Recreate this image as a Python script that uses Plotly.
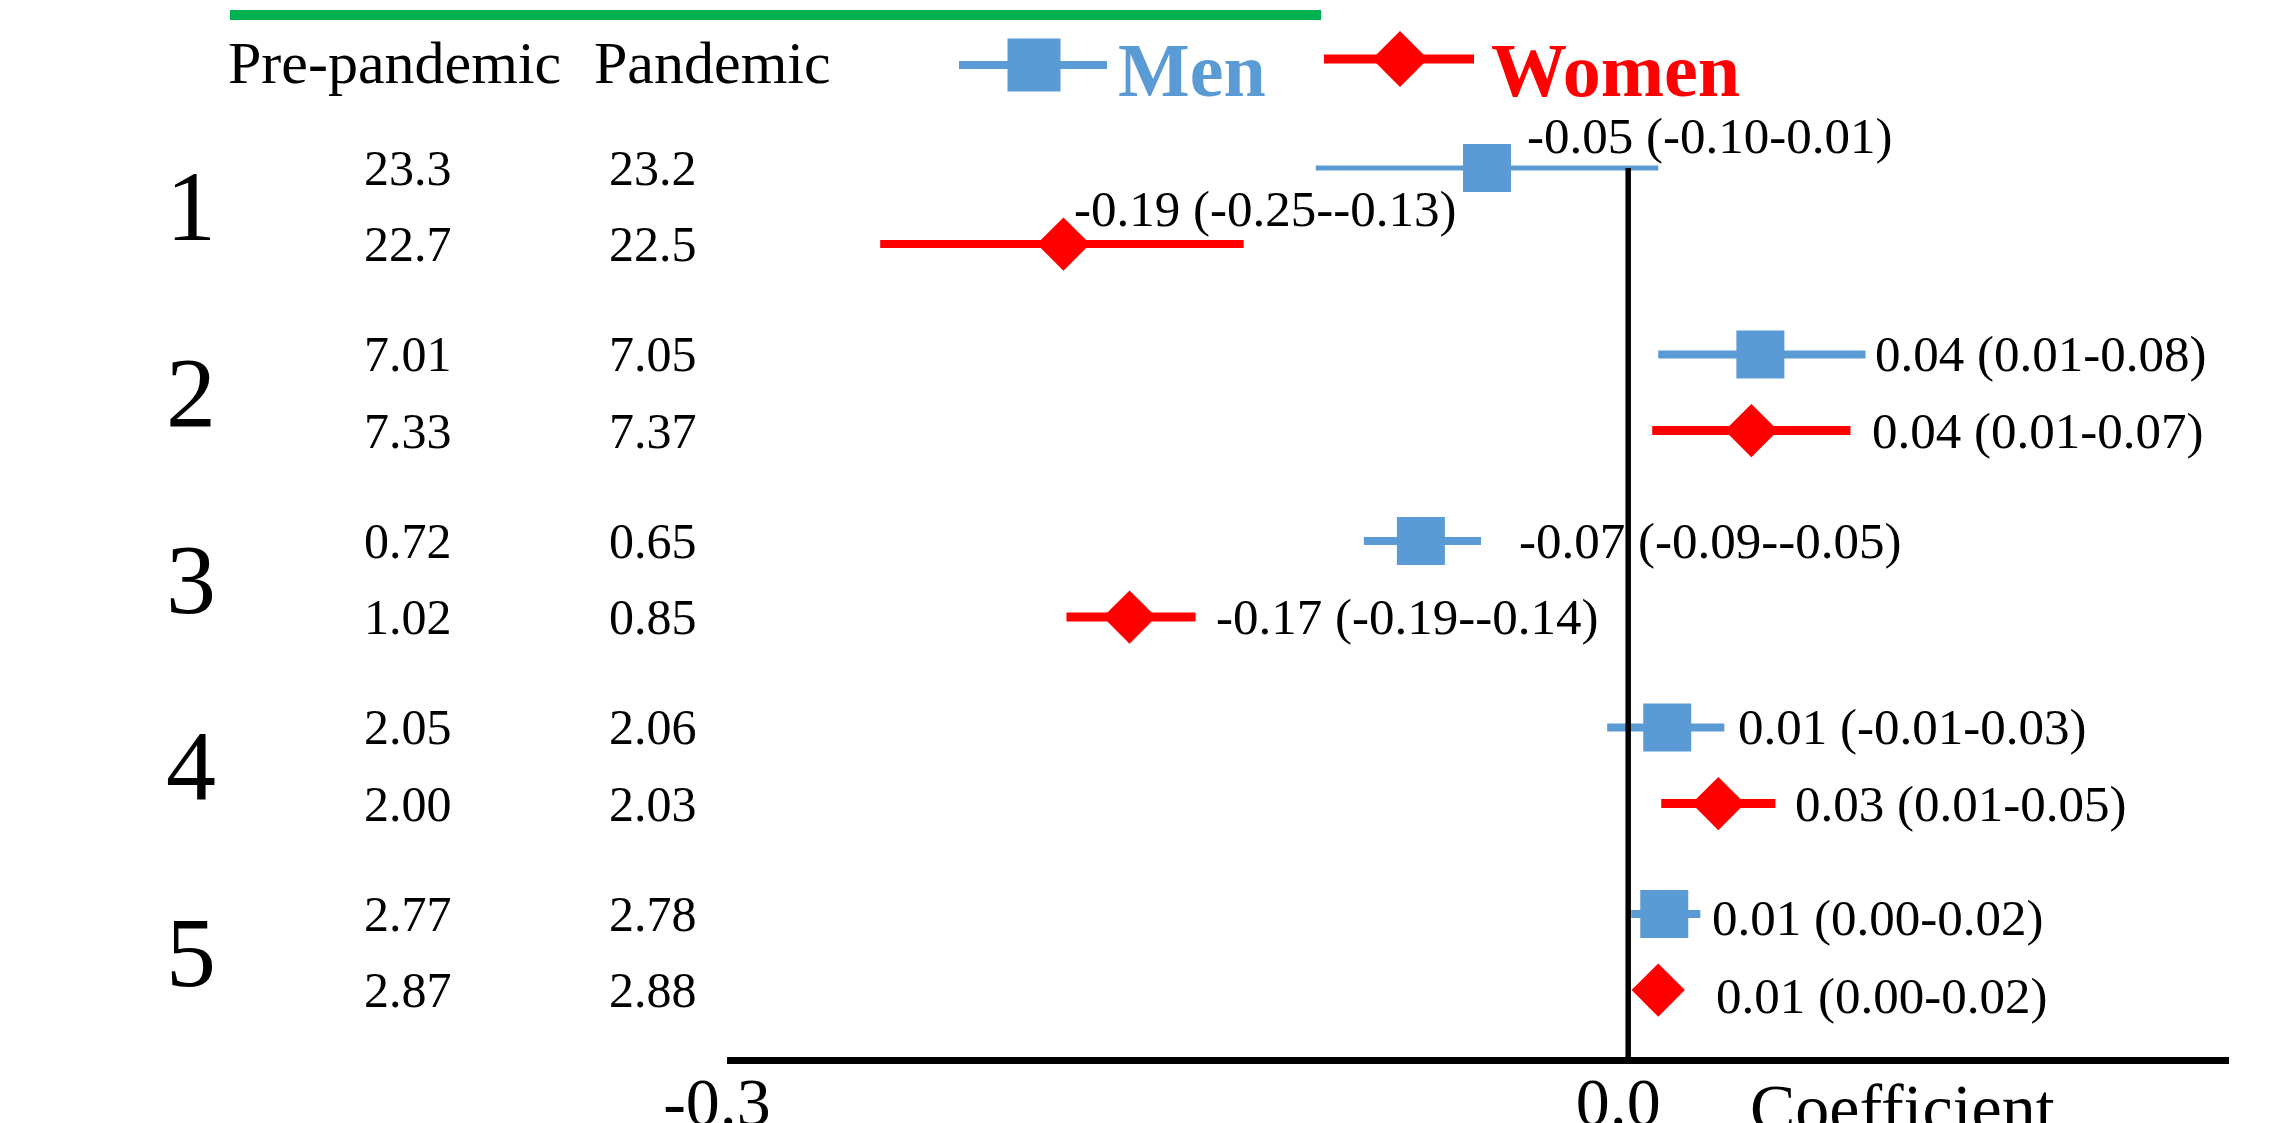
import plotly.graph_objects as go

# ---------------- data ----------------
groups = ["1", "2", "3", "4", "5"]
pre_men = ["23.3", "7.01", "0.72", "2.05", "2.77"]
pan_men = ["23.2", "7.05", "0.65", "2.06", "2.78"]
pre_women = ["22.7", "7.33", "1.02", "2.00", "2.87"]
pan_women = ["22.5", "7.37", "0.85", "2.03", "2.88"]

men_coef = [-0.047, 0.044, -0.069, 0.013, 0.012]
men_lo = [-0.104, 0.010, -0.088, -0.007, 0.001]
men_hi = [0.010, 0.079, -0.049, 0.032, 0.024]
women_coef = [-0.188, 0.041, -0.166, 0.030, 0.010]
women_lo = [-0.249, 0.008, -0.187, 0.011, 0.006]
women_hi = [-0.128, 0.074, -0.144, 0.049, 0.014]

men_labels = ["-0.05 (-0.10-0.01)", "0.04 (0.01-0.08)", "-0.07 (-0.09--0.05)",
              "0.01 (-0.01-0.03)", "0.01 (0.00-0.02)"]
women_labels = ["-0.19 (-0.25--0.13)", "0.04 (0.01-0.07)", "-0.17 (-0.19--0.14)",
                "0.03 (0.01-0.05)", "0.01 (0.00-0.02)"]

col_headers = ["Pre-pandemic", "Pandemic"]
x_tickvals = [-0.3, 0.0]
x_ticktext = ["-0.3", "0.0"]
x_title = "Coefficient"

# ---------------- layout helpers (page pixel coordinates) ----------------
OFF = 8                      # default page body margin
PAGE_W, PAGE_H = 2293, 1123
W, H = PAGE_W - OFF, PAGE_H - OFF
L, R, T, B = 727, 2229, OFF, 1057   # plot area in page pixels
X_RANGE = [-0.3, 0.2]
ROW_PX0, ROW_PX = 206, 186.5          # pixel of row 1 centre, pixels per row
ROW_OFF = 0.204
Y_RANGE = [1 + (B - ROW_PX0) / ROW_PX, 1 + (T - ROW_PX0) / ROW_PX]

BLUE = "#5B9BD5"
RED = "#FF0000"
GREEN = "#00B050"
FONT = "Liberation Serif"


def PX(px):
    return (px - L) / (R - L)


def PY(py):
    return 1 - (py - T) / (B - T)


def XD(px):  # page pixel -> coefficient units (legend placement)
    return X_RANGE[0] + (px - L) / (R - L) * (X_RANGE[1] - X_RANGE[0])


def YD(py):  # page pixel -> row units
    return 1 + (py - ROW_PX0) / ROW_PX


g = [i + 1 for i in range(len(groups))]
men_y = [v - ROW_OFF for v in g]
women_y = [v + ROW_OFF for v in g]

men_lw = [5, 8, 8, 8, 8]
women_lw = [8, 9, 9, 9, 9]
men_lab_x = [-0.0343, 0.0816, -0.037, 0.036, 0.0273]
women_lab_x = [-0.1851, 0.0806, -0.1379, 0.0549, 0.0286]
men_lab_dy = [-0.17, 0, 0, 0, 0.02]
women_lab_dy = [-0.19, 0, 0, 0, 0.03]

fig = go.Figure()

# CI lines
for i in range(len(groups)):
    fig.add_trace(go.Scatter(x=[men_lo[i], men_hi[i]], y=[men_y[i], men_y[i]], mode="lines",
                             line=dict(color=BLUE, width=men_lw[i]), showlegend=False,
                             hoverinfo="skip", cliponaxis=False))
    fig.add_trace(go.Scatter(x=[women_lo[i], women_hi[i]], y=[women_y[i], women_y[i]], mode="lines",
                             line=dict(color=RED, width=women_lw[i]), showlegend=False,
                             hoverinfo="skip", cliponaxis=False))

# zero reference line
fig.add_trace(go.Scatter(x=[0, 0], y=[men_y[0], Y_RANGE[0]], mode="lines",
                         line=dict(color="black", width=5.5), showlegend=False,
                         hoverinfo="skip", cliponaxis=False))

# point estimates
fig.add_trace(go.Scatter(x=men_coef, y=men_y, mode="markers", name="Men",
                         marker=dict(symbol="square", size=48, color=BLUE, line=dict(width=0)),
                         showlegend=False, cliponaxis=False))
fig.add_trace(go.Scatter(x=women_coef, y=women_y, mode="markers", name="Women",
                         marker=dict(symbol="diamond", size=41, color=RED, line=dict(width=0)),
                         showlegend=False, cliponaxis=False))

# custom legend
fig.add_trace(go.Scatter(x=[XD(959), XD(1107)], y=[YD(65), YD(65)], mode="lines",
                         line=dict(color=BLUE, width=8), showlegend=False, hoverinfo="skip"))
fig.add_trace(go.Scatter(x=[XD(1034)], y=[YD(65)], mode="markers",
                         marker=dict(symbol="square", size=53, color=BLUE), showlegend=False,
                         hoverinfo="skip"))
fig.add_trace(go.Scatter(x=[XD(1324), XD(1474)], y=[YD(59), YD(59)], mode="lines",
                         line=dict(color=RED, width=9), showlegend=False, hoverinfo="skip"))
fig.add_trace(go.Scatter(x=[XD(1400)], y=[YD(59)], mode="markers",
                         marker=dict(symbol="diamond", size=43, color=RED), showlegend=False,
                         hoverinfo="skip"))

ann = []
ann.append(dict(text="Men", x=PX(1116), y=PY(70), xref="paper", yref="paper",
                xanchor="left", yanchor="middle", showarrow=False,
                font=dict(family=FONT, size=76, color=BLUE, weight="bold")))
ann.append(dict(text="Women", x=PX(1489), y=PY(70), xref="paper", yref="paper",
                xanchor="left", yanchor="middle", showarrow=False,
                font=dict(family=FONT, size=76, color=RED, weight="bold")))

# column headers
for txt, px in zip(col_headers, [226, 592]):
    ann.append(dict(text=txt, x=PX(px), y=PY(63), xref="paper", yref="paper",
                    xanchor="left", yanchor="middle", showarrow=False,
                    font=dict(family=FONT, size=60, color="black")))

# group labels and table values
for i in range(len(groups)):
    ann.append(dict(text=groups[i], x=PX(191), y=(men_y[i] + women_y[i]) / 2, xref="paper", yref="y",
                    xanchor="center", yanchor="middle", showarrow=False,
                    font=dict(family=FONT, size=100, color="black")))
    for txt, px, yy in [(pre_men[i], 362, men_y[i]), (pan_men[i], 607, men_y[i]),
                        (pre_women[i], 362, women_y[i]), (pan_women[i], 607, women_y[i])]:
        ann.append(dict(text=txt, x=PX(px), y=yy, xref="paper", yref="y",
                        xanchor="left", yanchor="middle", showarrow=False,
                        font=dict(family=FONT, size=50, color="black")))
    ann.append(dict(text=men_labels[i], x=men_lab_x[i], y=men_y[i] + men_lab_dy[i], xref="x", yref="y",
                    xanchor="left", yanchor="middle", showarrow=False,
                    font=dict(family=FONT, size=51, color="black")))
    ann.append(dict(text=women_labels[i], x=women_lab_x[i], y=women_y[i] + women_lab_dy[i], xref="x",
                    yref="y", xanchor="left", yanchor="middle", showarrow=False,
                    font=dict(family=FONT, size=51, color="black")))

# axis title beside the ticks
ann.append(dict(text=x_title, x=PX(1748), y=PY(1068), xref="paper", yref="paper",
                xanchor="left", yanchor="top", showarrow=False,
                font=dict(family=FONT, size=68, color="black")))

shapes = [dict(type="line", xref="paper", yref="paper", x0=PX(230), x1=PX(1321),
               y0=PY(15), y1=PY(15), line=dict(color=GREEN, width=10))]

fig.update_layout(
    width=W, height=H,
    margin=dict(l=L - OFF, r=PAGE_W - R, t=T - OFF, b=PAGE_H - B, pad=0, autoexpand=False),
    paper_bgcolor="white", plot_bgcolor="white",
    showlegend=False,
    xaxis=dict(range=X_RANGE, showgrid=False, zeroline=False, showline=True, linecolor="black",
               linewidth=7, tickvals=x_tickvals, ticktext=x_ticktext, ticks="",
               ticklabelstandoff=-21, ticklabelshift=-10, automargin=False,
               tickfont=dict(family=FONT, size=68, color="black"), fixedrange=True),
    yaxis=dict(range=Y_RANGE, showgrid=False, zeroline=False, showline=False, automargin=False,
               showticklabels=False, ticks="", fixedrange=True),
    annotations=ann,
    shapes=shapes,
)

fig.write_html("out.html")
